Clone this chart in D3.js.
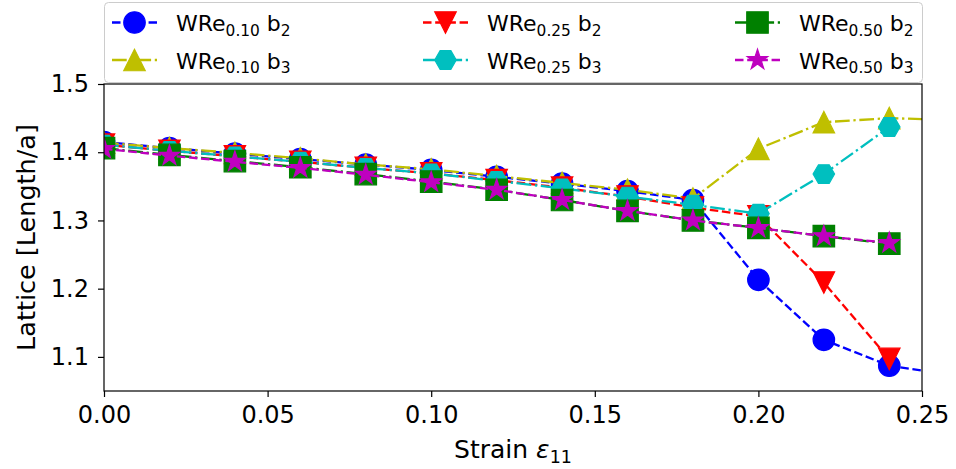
<!DOCTYPE html>
<html>
<head>
<meta charset="utf-8">
<script src="https://cdn.jsdelivr.net/npm/d3@7"></script>
<style>
  body { margin: 0; background: #fff; }
  svg { display: block; }
  text { font-family: "DejaVu Sans", sans-serif; fill: #000; }
</style>
</head>
<body>
<svg id="chart" width="956" height="469"></svg>
<script>
// Applied strain (the last step lies past the plotted range and is clipped away)
const strain = [0.00, 0.02, 0.04, 0.06, 0.08, 0.10, 0.12, 0.14, 0.16, 0.18, 0.20, 0.22, 0.24, 0.26];

// Lattice length ratios per alloy and direction
const wre010b2 = [1.415, 1.406, 1.398, 1.390, 1.382, 1.374, 1.364, 1.354, 1.343, 1.330, 1.213, 1.125, 1.087, 1.073];
const wre010b3 = [1.414, 1.406, 1.399, 1.391, 1.382, 1.375, 1.365, 1.355, 1.345, 1.332, 1.405, 1.444, 1.450, 1.447];
const wre025b2 = [1.411, 1.402, 1.394, 1.386, 1.377, 1.369, 1.359, 1.348, 1.335, 1.319, 1.306, 1.209, 1.097];
const wre025b3 = [1.411, 1.402, 1.394, 1.386, 1.377, 1.369, 1.358, 1.347, 1.335, 1.323, 1.310, 1.368, 1.437];
const wre050b2 = [1.406, 1.396, 1.387, 1.378, 1.368, 1.357, 1.345, 1.330, 1.314, 1.300, 1.289, 1.277, 1.266];
const wre050b3 = [1.405, 1.395, 1.386, 1.377, 1.367, 1.356, 1.345, 1.330, 1.314, 1.300, 1.289, 1.277, 1.267];

// Legend labels: [base, subscript, direction, subscript]
const labels = [
  ["WRe", "0.10", " b", "2"],
  ["WRe", "0.10", " b", "3"],
  ["WRe", "0.25", " b", "2"],
  ["WRe", "0.25", " b", "3"],
  ["WRe", "0.50", " b", "2"],
  ["WRe", "0.50", " b", "3"]
];

const xTicks = [0.00, 0.05, 0.10, 0.15, 0.20, 0.25];
const yTicks = [1.1, 1.2, 1.3, 1.4, 1.5];

const LW = 2.3;
const DASHED = [3.7 * LW, 1.6 * LW].join(",");
const DASHDOT = [6.4 * LW, 1.6 * LW, 1 * LW, 1.6 * LW].join(",");

const series = [
  { values: wre010b2, label: labels[0], color: "#0000ff", dash: DASHED,  marker: "circle" },
  { values: wre010b3, label: labels[1], color: "#bfbf00", dash: DASHDOT, marker: "triUp" },
  { values: wre025b2, label: labels[2], color: "#ff0000", dash: DASHED,  marker: "triDown" },
  { values: wre025b3, label: labels[3], color: "#00bfbf", dash: DASHDOT, marker: "hexagon" },
  { values: wre050b2, label: labels[4], color: "#008000", dash: DASHDOT, marker: "square" },
  { values: wre050b3, label: labels[5], color: "#bf00bf", dash: DASHED,  marker: "star" }
];

const svg = d3.select("#chart");
const plot = { left: 104, right: 922, top: 84, bottom: 391 };

const x = d3.scaleLinear().domain([0, 0.25]).range([plot.left, plot.right]);
const y = d3.scaleLinear().domain([1.05, 1.5]).range([plot.bottom, plot.top]);

// matplotlib-style marker outlines, centred on the origin
function markerPath(type, size) {
  const r = size / 2;
  const poly = pts => "M" + pts.map(p => p[0].toFixed(3) + "," + p[1].toFixed(3)).join("L") + "Z";
  switch (type) {
    case "circle": {
      const p = d3.path();
      p.arc(0, 0, r, 0, 2 * Math.PI);
      p.closePath();
      return p.toString();
    }
    case "triUp":   return poly([[0, -r], [-r, r], [r, r]]);
    case "triDown": return poly([[0, r], [-r, -r], [r, -r]]);
    case "square":  return poly([[-r, -r], [r, -r], [r, r], [-r, r]]);
    case "hexagon": return poly(d3.range(6).map(i => {
      const a = i * Math.PI / 3;
      return [r * Math.cos(a), r * Math.sin(a)];
    }));
    case "star": return poly(d3.range(10).map(i => {
      const a = -Math.PI / 2 + i * Math.PI / 5;
      const rr = i % 2 === 0 ? r : r * 0.381966;
      return [rr * Math.cos(a), rr * Math.sin(a)];
    }));
  }
}

const MS = 21.5;

svg.append("defs").append("clipPath").attr("id", "plot-clip")
  .append("rect")
  .attr("x", plot.left).attr("y", plot.top)
  .attr("width", plot.right - plot.left).attr("height", plot.bottom - plot.top);

const data = series.map(s => ({ ...s, pts: s.values.map((v, i) => [strain[i], v]) }));

const line = d3.line().x(d => x(d[0])).y(d => y(d[1]));

const marks = svg.append("g").attr("clip-path", "url(#plot-clip)");
data.forEach(s => {
  const g = marks.append("g");
  g.append("path")
    .attr("d", line(s.pts))
    .attr("fill", "none")
    .attr("stroke", s.color)
    .attr("stroke-width", LW)
    .attr("stroke-dasharray", s.dash);
  g.selectAll("path.pt").data(s.pts).enter().append("path")
    .attr("class", "pt")
    .attr("d", markerPath(s.marker, MS))
    .attr("transform", d => `translate(${x(d[0])},${y(d[1])})`)
    .attr("fill", s.color)
    .attr("stroke", s.color)
    .attr("stroke-width", 1.2)
    .attr("stroke-linejoin", "miter");
});

// Axes
const xAxis = d3.axisBottom(x).tickValues(xTicks).tickFormat(d3.format(".2f")).tickSize(6).tickPadding(9);
const yAxis = d3.axisLeft(y).tickValues(yTicks).tickFormat(d3.format(".1f")).tickSize(6).tickPadding(9);

const gx = svg.append("g").attr("transform", `translate(0,${plot.bottom})`).call(xAxis);
const gy = svg.append("g").attr("transform", `translate(${plot.left},0)`).call(yAxis);
[gx, gy].forEach(g => {
  g.select(".domain").remove();
  g.selectAll(".tick line").attr("stroke", "#000").attr("stroke-width", 1.2);
  g.selectAll(".tick text").style("font-size", "24px").attr("fill", "#000");
});

svg.append("rect")
  .attr("x", plot.left).attr("y", plot.top)
  .attr("width", plot.right - plot.left).attr("height", plot.bottom - plot.top)
  .attr("fill", "none").attr("stroke", "#000").attr("stroke-width", 1.2);

// Axis titles
const xl = svg.append("text")
  .attr("x", (plot.left + plot.right) / 2).attr("y", 458)
  .attr("text-anchor", "middle").style("font-size", "25px");
xl.append("tspan").text("Strain ");
xl.append("tspan").style("font-style", "italic").text("ε");
xl.append("tspan").attr("dy", 5).style("font-size", "17.5px").text("11");

svg.append("text")
  .attr("transform", `translate(35,${(plot.top + plot.bottom) / 2}) rotate(-90)`)
  .attr("text-anchor", "middle").style("font-size", "25.5px")
  .text("Lattice [Length/a]");

// Legend
const leg = svg.append("g");
leg.append("rect")
  .attr("x", 104.5).attr("y", 2.5).attr("width", 818).attr("height", 80)
  .attr("rx", 4).attr("ry", 4)
  .attr("fill", "#fff").attr("fill-opacity", 0.8)
  .attr("stroke", "#cccccc").attr("stroke-width", 1);

const colX = [112, 423, 735];
const rowY = [22.5, 60];
data.forEach((s, i) => {
  const col = Math.floor(i / 2), row = i % 2;
  const lx = colX[col], ly = rowY[row];
  const g = leg.append("g");
  g.append("line")
    .attr("x1", lx).attr("x2", lx + 45).attr("y1", ly).attr("y2", ly)
    .attr("stroke", s.color).attr("stroke-width", LW).attr("stroke-dasharray", s.dash);
  g.append("path")
    .attr("d", markerPath(s.marker, MS))
    .attr("transform", `translate(${lx + 22.5},${ly})`)
    .attr("fill", s.color).attr("stroke", s.color).attr("stroke-width", 1.2);
  const t = g.append("text")
    .attr("x", lx + 64).attr("y", ly + 8.5)
    .style("font-size", "22px");
  t.append("tspan").text(s.label[0]);
  t.append("tspan").attr("dy", 4.5).style("font-size", "15.4px").text(s.label[1]);
  t.append("tspan").attr("dy", -4.5).text(s.label[2]);
  t.append("tspan").attr("dy", 4.5).style("font-size", "15.4px").text(s.label[3]);
});
</script>
</body>
</html>
